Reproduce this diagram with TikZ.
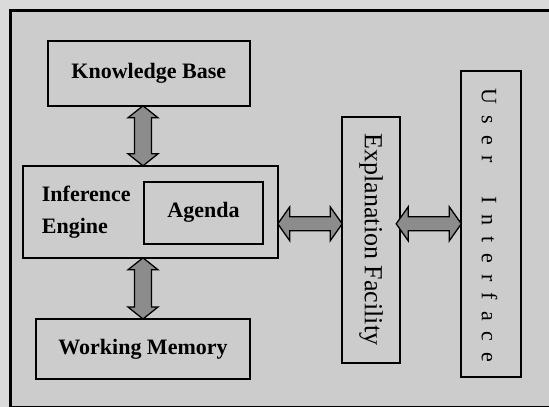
\documentclass[tikz,border=0pt]{standalone}
\usepackage{fontspec}
\setmainfont{Liberation Serif}
\usetikzlibrary{calc}
\definecolor{outerbg}{RGB}{218,218,218}
\definecolor{innerbg}{RGB}{204,204,204}
\definecolor{arrowgray}{RGB}{140,140,140}
\newcommand\lsp{\kern11pt}
\newcommand\vdarrow[2]{\draw[arr] let \p1=(#1), \p2=(#2) in
  (\x1,\y1) -- (\x1+15pt,\y1-12pt) -- (\x1+8.5pt,\y1-12pt) -- (\x1+8.5pt,\y2+12pt)
  -- (\x1+15pt,\y2+12pt) -- (\x1,\y2) -- (\x1-15pt,\y2+12pt) -- (\x1-8.5pt,\y2+12pt)
  -- (\x1-8.5pt,\y1-12pt) -- (\x1-15pt,\y1-12pt) -- cycle;}
\newcommand\hdarrow[2]{\draw[arr] let \p1=(#1), \p2=(#2) in
  (\x1,\y1) -- (\x1+12pt,\y1+17pt) -- (\x1+12pt,\y1+7pt) -- (\x2-12pt,\y1+7pt)
  -- (\x2-12pt,\y1+17pt) -- (\x2,\y1) -- (\x2-12pt,\y1-17pt) -- (\x2-12pt,\y1-7pt)
  -- (\x1+12pt,\y1-7pt) -- (\x1+12pt,\y1-17pt) -- cycle;}
\begin{document}
\begin{tikzpicture}[x={(1pt,0)}, y={(0,-1pt)},
  box/.style={draw=black, line width=2pt, inner sep=0pt, outer sep=0pt,
    font=\bfseries\fontsize{22}{26}\selectfont},
  vbox/.style={draw=black, line width=2pt, inner sep=0pt, outer sep=0pt},
  lbl/.style={inner sep=0pt, font=\bfseries\fontsize{22}{31.3}\selectfont},
  vlbl/.style={inner sep=0pt, rotate=-90},
  arr/.style={draw=black, line width=1.3pt, fill=arrowgray, line join=miter}]
\useasboundingbox (0,0) rectangle (549,407);
\fill[outerbg] (0,0) rectangle (549,407);
\draw[fill=innerbg, line width=2.5pt] (10.5,10.5) rectangle (565,407.5);
% boxes
\node[box, minimum width=202pt, minimum height=65pt] (kb) at (148.8,73.3) {Knowledge Base};
\node[vbox, minimum width=255pt, minimum height=92pt] (ie) at (150.3,211.8) {};
\node[box, minimum width=119pt, minimum height=62pt] (ag) at (203.5,212.7) {Agenda};
\node[lbl, anchor=base west, align=left] (ietext) at (41.7,233) {Inference\\Engine};
\node[box, minimum width=214pt, minimum height=60pt] (wm) at (143,349) {Working Memory};
\node[vbox, minimum width=58pt, minimum height=246pt] (ef) at (371.2,240.2) {};
\node[vlbl, font=\fontsize{26}{30}\selectfont] (eftext) at (371.2,239.5) {Explanation Facility};
\node[vbox, minimum width=59.4pt, minimum height=306pt] (ui) at (491,223.8) {};
\node[vlbl, font=\fontsize{22}{26}\selectfont] (uitext) at (489.5,225.5)
  {U\lsp s\lsp e\lsp r\kern33pt I\lsp n\lsp t\lsp e\lsp r\lsp f\lsp a\lsp c\lsp e};
% arrows
\vdarrow{kb.south -| wm.north}{ie.north -| wm.north}
\vdarrow{ie.south -| wm.north}{wm.north}
\coordinate (h1s) at (ie.east |- ui.west);
\coordinate (h1e) at (ef.west |- ui.west);
\coordinate (h2s) at ($(ef.east |- ui.west)+(-4,0)$);
\hdarrow{h1s}{h1e}
\hdarrow{h2s}{ui.west}
\end{tikzpicture}
\end{document}
